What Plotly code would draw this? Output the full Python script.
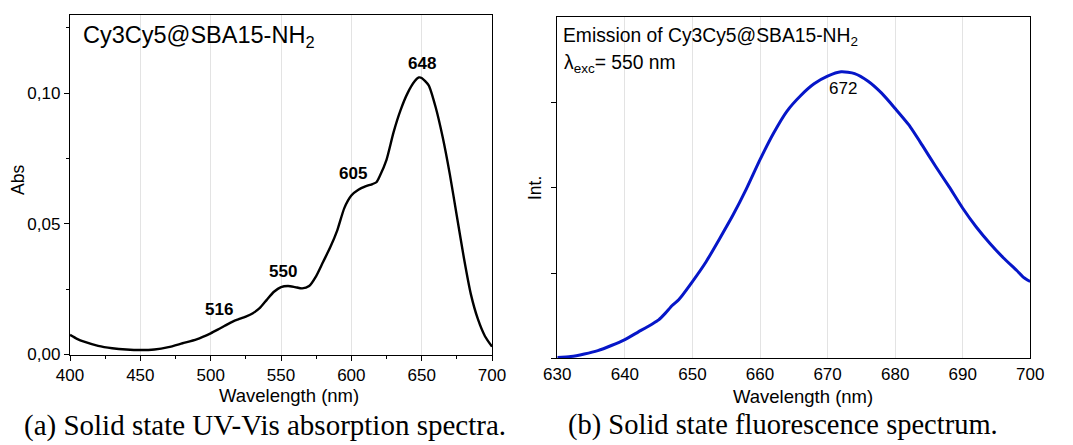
import plotly.graph_objects as go

# UV-Vis absorption of Cy3Cy5@SBA15-NH2 (solid state)
abs_wavelength = [400, 405, 410, 420, 430, 440, 450, 460, 470, 480, 490, 500, 505, 510,
                  516, 520, 525, 530, 535, 540, 545, 550, 555, 560, 565, 570, 575, 580,
                  585, 590, 595, 600, 605, 610, 615, 618, 620, 625, 630, 635, 640, 645,
                  648, 650, 655, 660, 665, 670, 675, 680, 685, 690, 695, 700]
abs_values = [0.0075, 0.0060, 0.0049, 0.0033, 0.0024, 0.0019, 0.0017, 0.0019, 0.0028,
              0.0043, 0.0058, 0.0081, 0.0095, 0.0110, 0.0127, 0.0135, 0.0145, 0.0158,
              0.0178, 0.0210, 0.0240, 0.0258, 0.0262, 0.0258, 0.0253, 0.0262, 0.0300,
              0.0355, 0.0410, 0.0475, 0.0560, 0.0608, 0.0630, 0.0643, 0.0652, 0.0660,
              0.0680, 0.0745, 0.0850, 0.0935, 0.1000, 0.1045, 0.1060, 0.1058, 0.1030,
              0.0945, 0.0830, 0.0690, 0.0530, 0.0370, 0.0230, 0.0135, 0.0070, 0.0030]

# Band maxima labelled on the absorption spectrum
abs_peak_labels = ["516", "550", "605", "648"]
abs_peak_x = [505.9, 551.4, 601.2, 650.2]
abs_peak_y = [0.0174, 0.0319, 0.0694, 0.1115]

# Fluorescence emission (arbitrary units), excitation at 550 nm
em_wavelength = [630, 632, 634, 636, 638, 640, 642, 644, 645, 646, 647, 648, 650, 652,
                 654, 656, 658, 660, 662, 664, 666, 668, 670, 672, 674, 676, 678, 680,
                 682, 684, 686, 688, 690, 692, 694, 696, 698, 699, 700]
em_values = [0.01, 0.02, 0.05, 0.09, 0.15, 0.22, 0.31, 0.40, 0.45, 0.53, 0.62, 0.69,
             0.90, 1.13, 1.40, 1.68, 1.99, 2.33, 2.64, 2.90, 3.08, 3.22, 3.31, 3.36,
             3.34, 3.25, 3.11, 2.93, 2.74, 2.50, 2.25, 2.01, 1.76, 1.54, 1.35, 1.18,
             1.03, 0.95, 0.90]
em_peak_label = "672"
em_peak_x = 672.3
em_peak_y = 3.17

abs_xticks = [400, 450, 500, 550, 600, 650, 700]
em_xticks = [630, 640, 650, 660, 670, 680, 690, 700]

W, H = 1073, 445
FONT = "Liberation Sans, Arial, sans-serif"
SERIF = "Liberation Serif, Times New Roman, serif"


def px_x(p):
    return p / W


def px_y(p):
    return (H - p) / H


fig = go.Figure()

fig.add_trace(go.Scatter(
    x=abs_wavelength, y=abs_values, mode="lines",
    line=dict(color="black", width=2.4, shape="spline", smoothing=0.6),
    xaxis="x", yaxis="y", showlegend=False, hoverinfo="skip"))

fig.add_trace(go.Scatter(
    x=em_wavelength, y=em_values, mode="lines",
    line=dict(color="rgb(6,22,200)", width=3, shape="spline", smoothing=0.6),
    xaxis="x2", yaxis="y2", showlegend=False, hoverinfo="skip"))

axis_common = dict(
    automargin=False,
    showline=True, linecolor="black", linewidth=1.3, mirror=True,
    ticks="outside", tickcolor="black", tickwidth=1.2, ticklen=5,
    tickfont=dict(family=FONT, size=17, color="black"),
    zeroline=False,
)

fig.update_layout(
    template="none",
    width=W, height=H,
    margin=dict(l=0, r=0, t=0, b=0, pad=0),
    paper_bgcolor="white", plot_bgcolor="white",
    separators=",.",
    xaxis=dict(
        domain=[px_x(70), px_x(492)], anchor="y",
        range=[400, 700], tickvals=abs_xticks,
        showgrid=True, gridcolor="#e3e3e3", gridwidth=1,
        minor=dict(dtick=25, tick0=400, ticks="outside", ticklen=3,
                   tickcolor="black", showgrid=False),
        **axis_common),
    yaxis=dict(
        domain=[px_y(354.5), px_y(14.7)], anchor="x",
        range=[0, 0.13], tickvals=[0, 0.05, 0.10], tickformat=".2f",
        showgrid=False,
        minor=dict(tickvals=[0.025, 0.075, 0.125], ticks="outside", ticklen=3,
                   tickcolor="black", showgrid=False),
        **axis_common),
    xaxis2=dict(
        domain=[px_x(557.3), px_x(1030.3)], anchor="y2",
        range=[630, 700], tickvals=em_xticks,
        showgrid=True, gridcolor="#e3e3e3", gridwidth=1,
        **{**axis_common, "ticks": ""}),
    yaxis2=dict(
        domain=[px_y(358.3), px_y(17.3)], anchor="x2",
        range=[0, 4], tickvals=[0, 1, 2, 3], showticklabels=False,
        showgrid=False,
        **axis_common),
)

ann = []


def label(x, y, text, size, xref="paper", yref="paper", family=FONT,
          xanchor="center", yanchor="middle", angle=0):
    ann.append(dict(x=x, y=y, xref=xref, yref=yref, text=text, showarrow=False,
                    xanchor=xanchor, yanchor=yanchor, textangle=angle,
                    font=dict(family=family, size=size, color="black")))


# Peak labels
for lab, xv, yv in zip(abs_peak_labels, abs_peak_x, abs_peak_y):
    label(xv, yv, f"<b>{lab}</b>", 17, xref="x", yref="y")
label(em_peak_x, em_peak_y, em_peak_label, 17, xref="x2", yref="y2")

# Sample names inside the plot frames
label(px_x(81), px_y(20), "Cy3Cy5@SBA15-NH<sub>2</sub>", 23.5,
      xanchor="left", yanchor="top")
label(px_x(561), px_y(23), "Emission of Cy3Cy5@SBA15-NH<sub>2</sub>", 19.3,
      xanchor="left", yanchor="top")
label(px_x(562), px_y(50), "λ<sub>exc</sub>= 550 nm", 19.3,
      xanchor="left", yanchor="top")

# Axis titles
label(px_x(289), px_y(395), "Wavelength (nm)", 18.5)
label(px_x(803), px_y(396.5), "Wavelength (nm)", 18.5)
label(px_x(18), px_y(180), "Abs", 17.5, angle=-90)
label(px_x(535), px_y(188), "Int.", 17.5, angle=-90)

# Sub-figure captions
label(px_x(265), px_y(425), "(a) Solid state UV-Vis absorption spectra.", 29,
      family=SERIF)
label(px_x(783), px_y(425), "(b) Solid state fluorescence spectrum.", 28.5,
      family=SERIF)

fig.update_layout(annotations=ann)

fig.write_html("out.html")
